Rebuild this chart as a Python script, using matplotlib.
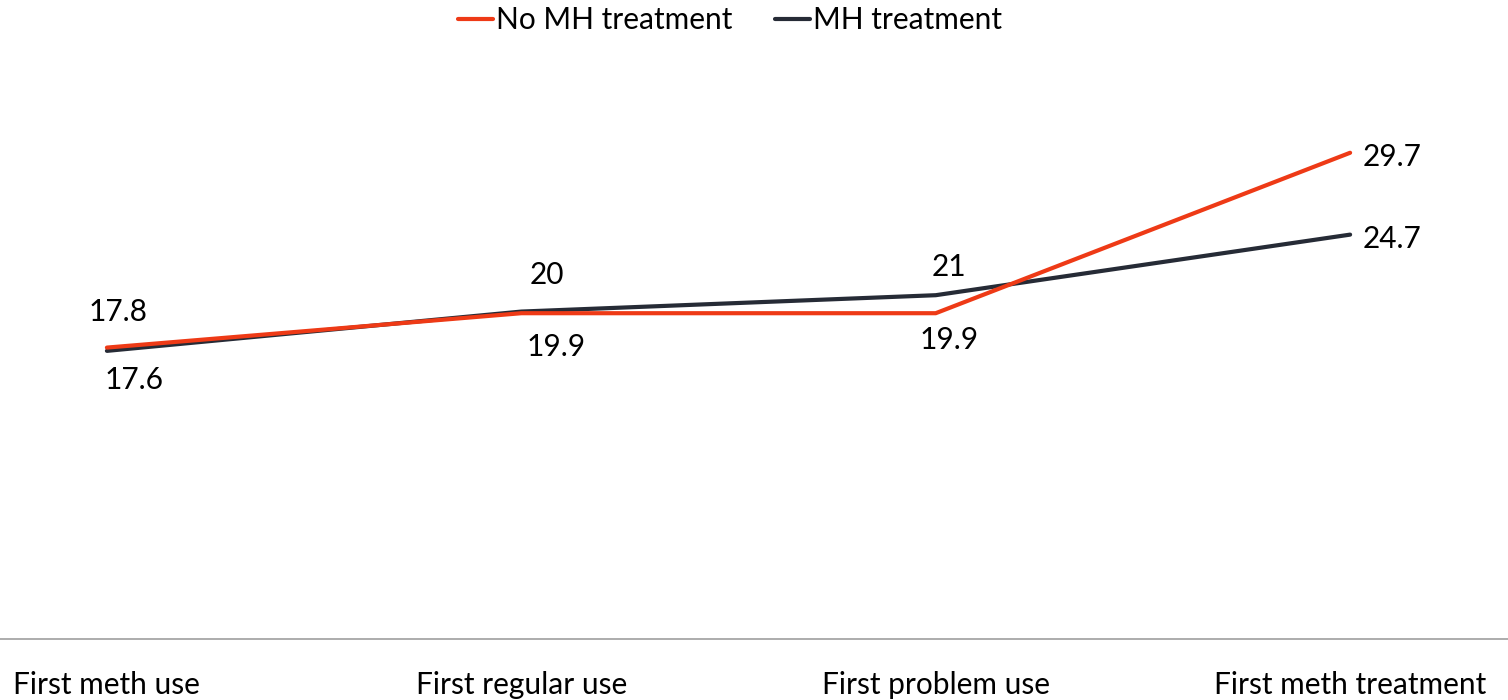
import matplotlib.pyplot as plt

plt.rcParams['font.family'] = ['Lato', 'DejaVu Sans']

# data
stages = ['First meth use', 'First regular use', 'First problem use', 'First meth treatment']
no_mh = [17.8, 19.9, 19.9, 29.7]
mh = [17.6, 20, 21, 24.7]

# label offsets in pixels (dx, dy, ha)
no_mh_offsets = [(11, 36, 'center'), (35, -34, 'center'), (13, -27, 'center'), (13, -4, 'left')]
mh_offsets = [(27, -29, 'center'), (26, 37, 'center'), (13, 28, 'center'), (13, -4, 'left')]

red = '#EE3A16'
dark = '#262B36'
fs = 21.5

fig = plt.figure(figsize=(15.08, 7.0), dpi=100)
ax = fig.add_axes([0, 61 / 700, 1, 573 / 700])

x = list(range(len(stages)))
ax.plot(x, mh, color=dark, lw=3, label='MH treatment', zorder=3, solid_capstyle='round')
ax.plot(x, no_mh, color=red, lw=3, label='No MH treatment', zorder=4, solid_capstyle='round')

for xi, v, (dx, dy, ha) in zip(x, no_mh, no_mh_offsets):
    ax.annotate(f'{v:g}', (xi, v), xytext=(dx, dy), textcoords='offset pixels',
                ha=ha, va='center', fontsize=fs, color='black')
for xi, v, (dx, dy, ha) in zip(x, mh, mh_offsets):
    ax.annotate(f'{v:g}', (xi, v), xytext=(dx, dy), textcoords='offset pixels',
                ha=ha, va='center', fontsize=fs, color='black')

ax.set_xlim(-0.258, 3.381)
ax.set_ylim(0, 35)
ax.set_xticks(x)
ax.set_xticklabels(stages, fontsize=fs)
ax.tick_params(axis='x', length=0, pad=23)
ax.set_yticks([])
for s in ['top', 'right', 'left']:
    ax.spines[s].set_visible(False)
ax.spines['bottom'].set_color('#A6A6A6')
ax.spines['bottom'].set_linewidth(1.3)

handles, labels = ax.get_legend_handles_labels()
fig.legend(handles[::-1], labels[::-1], loc='center', bbox_to_anchor=(730 / 1508, 1 - 20 / 700),
           ncol=2, frameon=False, fontsize=fs, handlelength=1.2, handletextpad=0.1,
           columnspacing=1.4)

fig.savefig('out.png', dpi=100)
